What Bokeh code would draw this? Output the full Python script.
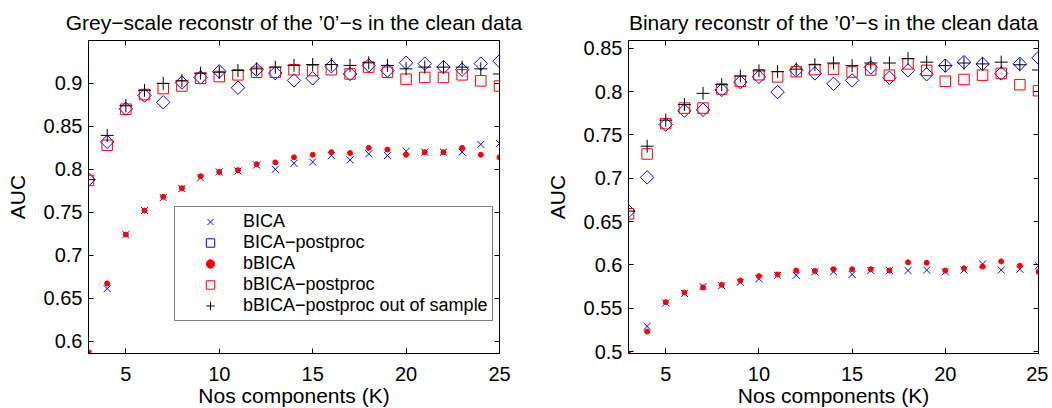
import math
from bokeh.plotting import figure
from bokeh.models import LinearAxis, FixedTicker, Legend, LegendItem, Range1d
from bokeh.layouts import row
from bokeh.embed import file_html
from bokeh.resources import INLINE

FONT = "helvetica"

K = list(range(3, 26))

# ---- Grey-scale reconstruction (left panel) ----
grey_bica = [0.585, 0.661, 0.724, 0.752, 0.767, 0.7775, 0.790, 0.797, 0.798, 0.805, 0.800, 0.807,
             0.8085, 0.816, 0.811, 0.818, 0.816, 0.821, 0.820, 0.820, 0.820, 0.829, 0.830]
grey_bica_pp = [0.788, 0.832, 0.8705, 0.886, 0.878, 0.901, 0.907, 0.914, 0.895, 0.916, 0.912, 0.9035,
                0.906, 0.920, 0.911, 0.921, 0.915, 0.924, 0.923, 0.919, 0.916, 0.923, 0.926]
grey_bbica = [0.587, 0.667, 0.724, 0.752, 0.768, 0.778, 0.792, 0.797, 0.799, 0.806, 0.808, 0.814,
              0.817, 0.820, 0.819, 0.825, 0.823, 0.817, 0.820, 0.820, 0.825, 0.817, 0.814]
grey_bbica_pp = [0.787, 0.828, 0.870, 0.887, 0.894, 0.897, 0.906, 0.908, 0.910, 0.913, 0.913, 0.916,
                 0.915, 0.916, 0.911, 0.919, 0.913, 0.905, 0.907, 0.907, 0.910, 0.903, 0.897]
grey_bbica_oos = [0.788, 0.8395, 0.874, 0.892, 0.900, 0.903, 0.912, 0.913, 0.915, 0.917, 0.919, 0.921,
                  0.922, 0.922, 0.921, 0.924, 0.921, 0.917, 0.919, 0.919, 0.919, 0.917, 0.911]

# ---- Binary reconstruction (right panel) ----
bin_bica = [0.497, 0.529, 0.556, 0.567, 0.575, 0.576, 0.580, 0.584, 0.588, 0.588, 0.592, 0.592,
            0.589, 0.5935, 0.5935, 0.5935, 0.594, 0.592, 0.594, 0.601, 0.594, 0.595, 0.599]
bin_bica_pp = [0.662, 0.701, 0.762, 0.778, 0.779, 0.802, 0.811, 0.817, 0.7995, 0.8245, 0.821, 0.809,
               0.813, 0.828, 0.816, 0.8245, 0.820, 0.830, 0.834, 0.832, 0.821, 0.832, 0.839]
bin_bbica = [0.497, 0.523, 0.557, 0.568, 0.574, 0.577, 0.582, 0.587, 0.589, 0.5935, 0.593, 0.595,
             0.595, 0.595, 0.5935, 0.603, 0.6025, 0.5935, 0.596, 0.598, 0.604, 0.599, 0.592]
bin_bbica_pp = [0.659, 0.728, 0.763, 0.781, 0.781, 0.803, 0.812, 0.8195, 0.817, 0.823, 0.8255, 0.826,
                0.8226, 0.825, 0.819, 0.832, 0.8245, 0.812, 0.814, 0.819, 0.821, 0.808, 0.801]
bin_bbica_oos = [0.662, 0.737, 0.767, 0.785, 0.798, 0.808, 0.818, 0.824, 0.823, 0.826, 0.831, 0.833,
                 0.830, 0.833, 0.833, 0.838, 0.834, 0.830, 0.833, 0.832, 0.834, 0.831, 0.825]

x_ticks = [5, 10, 15, 20, 25]
x_tick_labels = ["5", "10", "15", "20", "25"]
grey_y_ticks = [0.6, 0.65, 0.7, 0.75, 0.8, 0.85, 0.9]
grey_y_tick_labels = ["0.6", "0.65", "0.7", "0.75", "0.8", "0.85", "0.9"]
bin_y_ticks = [0.5, 0.55, 0.6, 0.65, 0.7, 0.75, 0.8, 0.85]
bin_y_tick_labels = ["0.5", "0.55", "0.6", "0.65", "0.7", "0.75", "0.8", "0.85"]

x_limits = (3, 25)
grey_y_limits = (0.5855, 0.950)
bin_y_limits = (0.4977, 0.859)

series_names = ["BICA", "BICA\u2212postproc", "bBICA", "bBICA\u2212postproc",
                "bBICA\u2212postproc out of sample"]

titles = ["Grey\u2212scale reconstr of the \u20190\u2019\u2212s in the clean data",
          "Binary reconstr of the \u20190\u2019\u2212s in the clean data"]
x_label = "Nos components (K)"
y_label = "AUC"


def style_axis(ax, labels=True):
    ax.axis_line_color = "black"
    ax.axis_line_width = 1
    ax.major_tick_line_color = "black"
    ax.major_tick_line_width = 1
    ax.major_tick_in = 5
    ax.major_tick_out = 0
    ax.minor_tick_line_color = None
    if labels:
        ax.major_label_text_font = FONT
        ax.major_label_text_font_size = "20px"
        ax.major_label_text_color = "black"
        ax.axis_label_text_font = FONT
        ax.axis_label_text_font_size = "21px"
        ax.axis_label_text_font_style = "normal"
        ax.axis_label_text_color = "black"
    else:
        ax.major_label_overrides = {t: "" for t in ax.ticker.ticks}
        ax.major_label_standoff = 0


def make_panel(title, yr, yticks, ylabels, data, border_left, border_right, frame_w, with_legend):
    xlo, xhi = x_limits
    ylo, yhi = yr
    p = figure(output_backend="svg", toolbar_location=None,
               frame_width=frame_w, frame_height=313,
               min_border_left=border_left, min_border_right=border_right,
               min_border_top=40, min_border_bottom=47,
               x_range=Range1d(xlo, xhi), y_range=Range1d(ylo, yhi), title=title)
    p.title.text_font = FONT
    p.title.text_font_size = "21px"
    p.title.text_font_style = "normal"
    p.title.text_color = "black"
    p.title.align = "center"
    p.title.standoff = 14
    # grid kept (as white lines) so the frame paints like a default figure
    p.xgrid.grid_line_color = "white"
    p.ygrid.grid_line_color = "white"
    p.outline_line_color = "black"
    p.outline_line_width = 1

    p.xaxis.ticker = FixedTicker(ticks=x_ticks)
    p.xaxis.major_label_overrides = dict(zip(x_ticks, x_tick_labels))
    p.yaxis.ticker = FixedTicker(ticks=yticks)
    p.yaxis.major_label_overrides = dict(zip(yticks, ylabels))
    p.xaxis.axis_label = x_label
    p.yaxis.axis_label = y_label
    style_axis(p.xaxis[0])
    style_axis(p.yaxis[0])
    p.xaxis.major_label_standoff = 13
    p.xaxis.axis_label_standoff = 0
    p.yaxis.major_label_standoff = 6
    p.yaxis.axis_label_standoff = 12

    top = LinearAxis(ticker=FixedTicker(ticks=x_ticks))
    style_axis(top, labels=False)
    p.add_layout(top, "above")
    right = LinearAxis(ticker=FixedTicker(ticks=yticks))
    style_axis(right, labels=False)
    p.add_layout(right, "right")

    bica, bica_pp, bbica, bbica_pp, bbica_oos = data
    r1 = p.scatter(K, bica, marker="x", size=10, line_color="blue", line_width=1)
    r2 = p.scatter(K, bica_pp, marker="square", angle=math.pi / 4, size=9.5,
                   line_color="blue", fill_color=None, line_width=1)
    r3 = p.scatter(K, bbica, marker="circle", size=5, line_color="red", fill_color="red")
    r4 = p.scatter(K, bbica_pp, marker="square", size=10.5, line_color="red",
                   fill_color=None, line_width=1)
    r5 = p.scatter(K, bbica_oos, marker="cross", size=13, line_color="black", line_width=1)

    if with_legend:
        items = [LegendItem(label=n, renderers=[r]) for n, r in zip(series_names, [r1, r2, r3, r4, r5])]
        leg = Legend(items=items, location=(86, 32), margin=0, padding=4, spacing=0,
                     glyph_width=62, glyph_height=21, label_height=21, label_standoff=2,
                     border_line_color="black", border_line_width=1,
                     background_fill_color="white", background_fill_alpha=1,
                     label_text_font=FONT, label_text_font_size="18px", label_text_color="black")
        p.add_layout(leg)
    return p


p1 = make_panel(titles[0], grey_y_limits, grey_y_ticks, grey_y_tick_labels,
                [grey_bica, grey_bica_pp, grey_bbica, grey_bbica_pp, grey_bbica_oos],
                88, 42, 411, True)
p2 = make_panel(titles[1], bin_y_limits, bin_y_ticks, bin_y_tick_labels,
                [bin_bica, bin_bica_pp, bin_bbica, bin_bbica_pp, bin_bbica_oos],
                87, 10, 410, False)

layout = row(p1, p2)
open("out.html", "w").write(file_html(layout, INLINE))
